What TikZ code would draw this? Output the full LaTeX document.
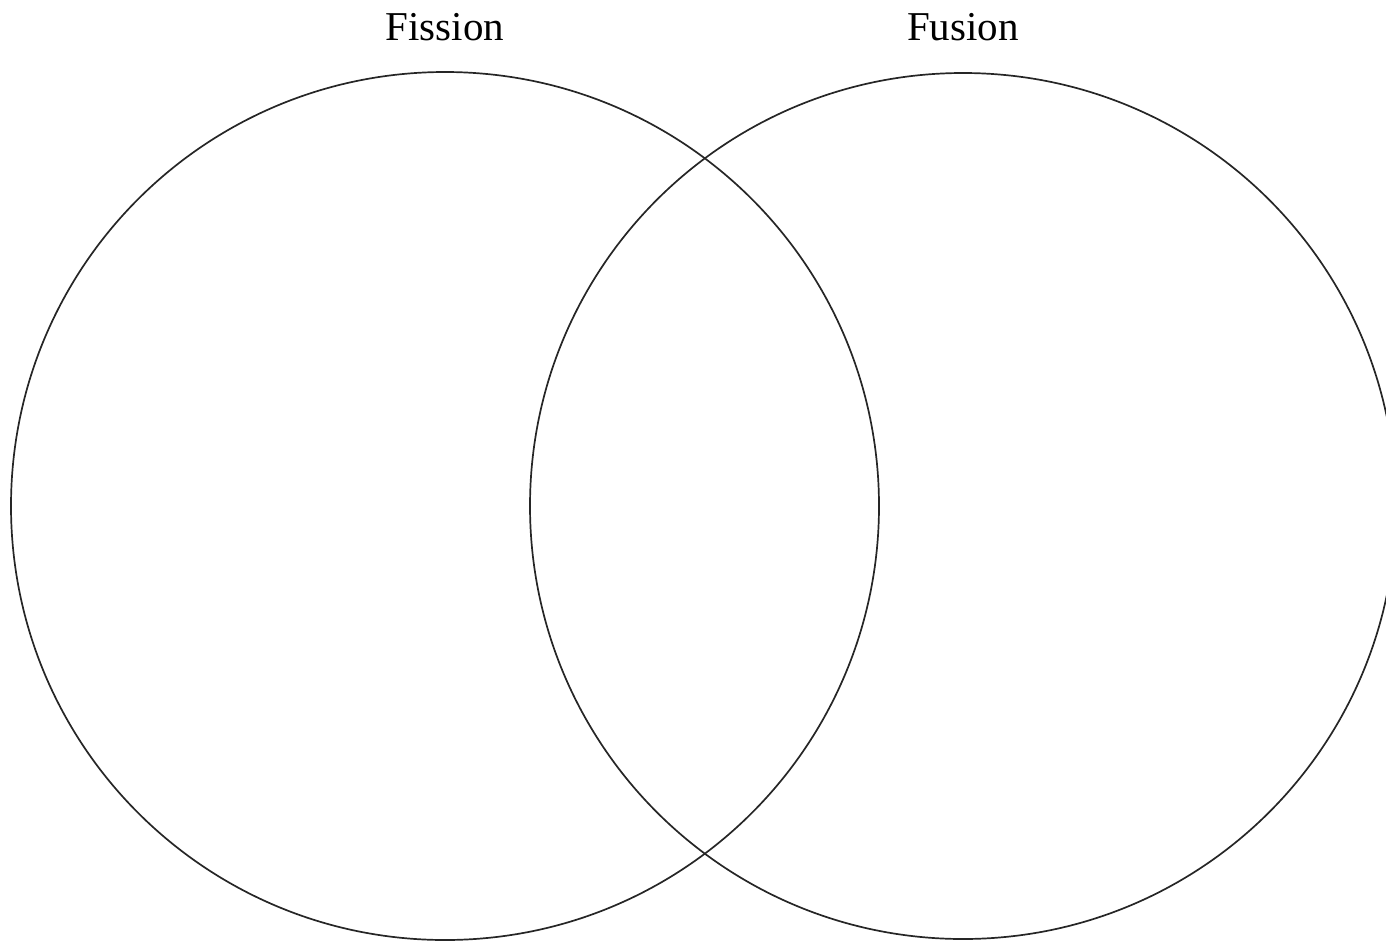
\documentclass[tikz,border=0pt]{standalone}
\usepackage{fontspec}
\setmainfont{Liberation Serif}
\begin{document}
\begin{tikzpicture}[x=1pt,y=-1pt,
  ring/.style={draw=black!85,line width=1.7pt},
  title/.style={font=\fontsize{41}{48}\selectfont,anchor=base,inner sep=0pt}]
\useasboundingbox (0,0) rectangle (1386,943);
\clip (0,0) rectangle (1386,943);
\node[ring,circle,minimum size=868pt,inner sep=0pt] (fission) at (445,506) {};
\node[ring,circle,minimum size=866pt,inner sep=0pt] (fusion) at (963,506) {};
\node[title] (tfission) at (445,40) {Fission};
\node[title] (tfusion) at (963,40) {Fusion};
\end{tikzpicture}
\end{document}
